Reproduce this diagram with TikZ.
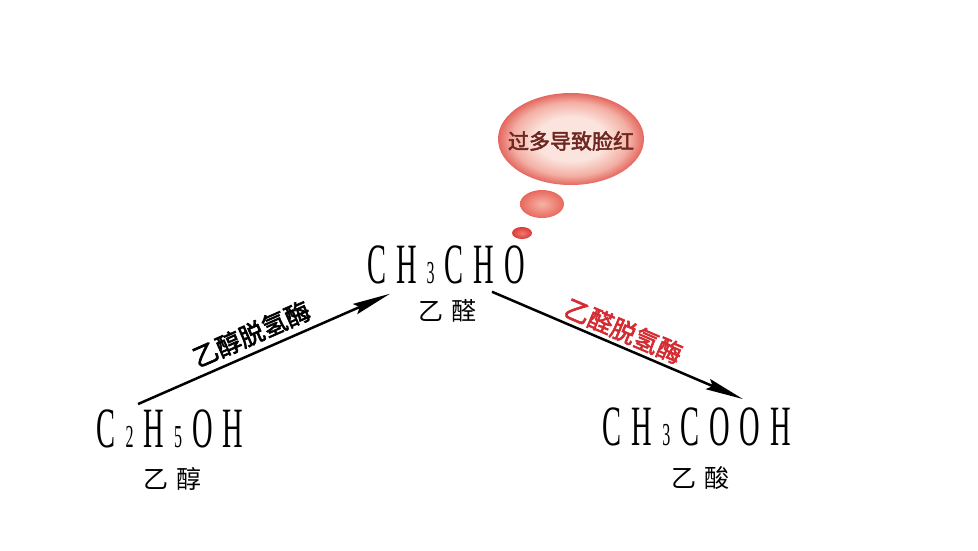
\documentclass[tikz,border=0pt]{standalone}
\usepackage{fontspec}
\usepackage{xcolor}
\usetikzlibrary{arrows.meta}
\newfontfamily\formfont[FakeStretch=0.5]{Liberation Serif}
\newfontfamily\cjk{Noto Sans CJK SC}
\newfontfamily\cjkbold[FakeBold=2.5]{Noto Sans CJK SC}
\newcommand{\subn}[1]{{\fontsize{32}{32}\selectfont #1}}
\newcommand{\gp}{\kern10pt}
\definecolor{bubA}{HTML}{FBE4DD}
\definecolor{bubB}{HTML}{F3AFA4}
\definecolor{bubC}{HTML}{E4675F}
\definecolor{midA}{HTML}{F7B3A6}
\definecolor{midC}{HTML}{E8685C}
\definecolor{smallA}{HTML}{F07A70}
\definecolor{smallC}{HTML}{DC3A36}
\definecolor{enzred}{HTML}{D42A30}
\definecolor{bubtext}{HTML}{6E2620}
\pgfdeclareradialshading{bigbubble}{\pgfpoint{0bp}{0bp}}{color(0bp)=(bubA); color(12bp)=(bubA); color(20bp)=(bubB); color(25bp)=(bubC); color(50bp)=(bubC)}
\pgfdeclareradialshading{midbubble}{\pgfpoint{0bp}{0bp}}{color(0bp)=(midA); color(25bp)=(midC); color(50bp)=(midC)}
\pgfdeclareradialshading{smallbubble}{\pgfpoint{0bp}{0bp}}{color(0bp)=(smallA); color(25bp)=(smallC); color(50bp)=(smallC)}
\tikzset{
  formula/.style={inner sep=0pt, anchor=base, font=\formfont\fontsize{57}{57}\selectfont},
  cname/.style={inner sep=0pt, font=\cjk\fontsize{25}{25}\selectfont},
  enzyme/.style={inner sep=2pt, font=\cjkbold\fontsize{25}{25}\selectfont},
  react/.style={line width=2.5pt, -{Stealth[length=38pt,width=11pt,inset=5pt]}}
}
\begin{document}
\begin{tikzpicture}[x=1pt,y=-1pt]
\useasboundingbox (0,0) rectangle (978,550);

% thought bubble
\shade[shading=bigbubble] (571,139) ellipse [x radius=73, y radius=46];
\shade[shading=midbubble] (542,204) ellipse [x radius=22, y radius=14];
\shade[shading=smallbubble] (522,233) ellipse [x radius=10, y radius=6];
\node[inner sep=0pt, text=bubtext, font=\cjkbold\fontsize{21}{21}\selectfont] (blush) at (571,141) {过多导致脸红};

% compounds
\node[formula] (eth) at (170,447) {C\gp\subn{2}\gp H\gp\subn{5}\gp O\gp H};
\node[cname] (ethname) at (172,479) {乙\hspace{8pt}醇};
\node[formula] (ald) at (446,283) {C\gp H\gp\subn{3}\gp C\gp H\gp O};
\node[cname] (aldname) at (447,311) {乙\hspace{8pt}醛};
\node[formula] (acid) at (697,445) {C\gp H\gp\subn{3}\gp C\gp O\gp O\gp H};
\node[cname] (acidname) at (700,478) {乙\hspace{8pt}酸};

% reactions
\draw[react] ([xshift=-32pt,yshift=5pt]eth.north) -- ([xshift=-56pt,yshift=-10pt]ald.south)
  node[enzyme, pos=0.48, sloped, above=4pt] (enz1) {乙醇脱氢酶};
\draw[react] ([xshift=46pt,yshift=-8pt]ald.south) -- ([xshift=46pt,yshift=8pt]acid.north)
  node[enzyme, pos=0.50, sloped, above=1pt, text=enzred] (enz2) {乙醛脱氢酶};
\end{tikzpicture}
\end{document}
